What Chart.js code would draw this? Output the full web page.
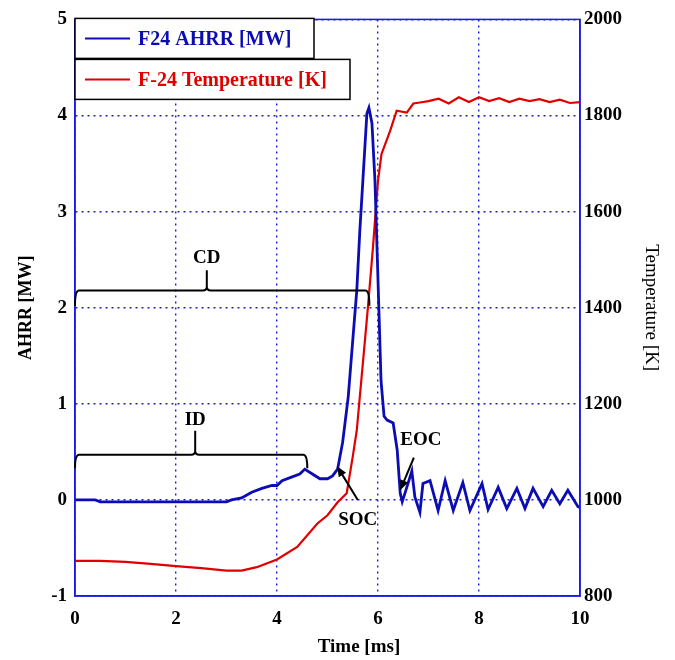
<!DOCTYPE html>
<html>
<head>
<meta charset="utf-8">
<script src="https://cdn.jsdelivr.net/npm/chart.js@4.4.0/dist/chart.umd.min.js"></script>
<style>
  html, body { margin: 0; padding: 0; background: #fff; }
</style>
</head>
<body>
<canvas id="chart" width="675" height="660"></canvas>
<script>
// Values
const ahrrTime = [0, 0.4, 0.5, 1.0, 1.5, 2.0, 2.5, 3.0, 3.1, 3.3, 3.5, 3.7, 3.9, 4.0, 4.1, 4.3, 4.45, 4.55, 4.7, 4.85, 5.0, 5.1, 5.2, 5.3, 5.41, 5.5, 5.58,
  5.64, 5.7, 5.78, 5.82, 5.88, 5.94, 5.98, 6.02, 6.06, 6.12, 6.18, 6.3, 6.38, 6.44, 6.48, 6.57, 6.67, 6.73, 6.83, 6.89, 7.03,
  7.19, 7.33, 7.49, 7.68, 7.82, 8.06, 8.18, 8.38, 8.55, 8.75, 8.91, 9.07, 9.27, 9.44, 9.6, 9.76, 9.96, 10];
const ahrrMW = [0, 0, -0.02, -0.02, -0.02, -0.02, -0.02, -0.02, 0, 0.02, 0.08, 0.12, 0.15, 0.15, 0.2, 0.24, 0.27, 0.32, 0.27, 0.22, 0.22, 0.25, 0.32, 0.6, 1.07, 1.66, 2.18,
  2.8, 3.32, 4.02, 4.08, 3.92, 3.32, 2.63, 1.94, 1.24, 0.87, 0.83, 0.8, 0.52, 0.07, -0.02, 0.13, 0.3, 0.03, -0.13, 0.17, 0.2,
  -0.11, 0.2, -0.11, 0.18, -0.11, 0.17, -0.1, 0.13, -0.09, 0.12, -0.09, 0.12, -0.07, 0.1, -0.04, 0.1, -0.07, -0.08];

const tempTime = [0, 0.5, 1.0, 1.5, 2.0, 2.5, 3.0, 3.3, 3.6, 4.0, 4.4, 4.8, 5.0, 5.2, 5.38, 5.5, 5.58, 5.7, 5.8, 5.9, 6.0, 6.07,
  6.24, 6.37, 6.57, 6.7, 6.83, 7.0, 7.2, 7.4, 7.6, 7.8, 8.0, 8.2, 8.4, 8.6, 8.8, 9.0, 9.2, 9.4, 9.6, 9.8, 10];
const tempK = [873, 873, 871, 867, 862, 858, 853, 853, 860, 876, 902, 951, 968, 995, 1014, 1090, 1145, 1284, 1400, 1525, 1664, 1720,
  1768, 1810, 1806, 1825, 1827, 1830, 1835, 1825, 1838, 1828, 1838, 1830, 1836, 1828, 1835, 1830, 1834, 1828, 1833, 1826, 1828];

const seriesLabels = ['F24 AHRR [MW]', 'F-24 Temperature [K]'];
const seriesColors = ['#0c0cb4', '#e00000'];

// annotations, in data units (time [ms], AHRR [MW])
const braces = [
  { label: 'CD', from: 0, to: 5.83, mid: 2.61, level: 2.18, foot: 2.02, tip: 2.39, text: 2.52 },
  { label: 'ID', from: 0, to: 4.6, mid: 2.38, level: 0.47, foot: 0.33, tip: 0.72, text: 0.83 },
];
const arrows = [
  { label: 'SOC', tx: 5.6, ty: -0.21, x0: 5.6, y0: 0.0, x1: 5.19, y1: 0.35 },
  { label: 'EOC', tx: 6.85, ty: 0.62, x0: 6.71, y0: 0.44, x1: 6.44, y1: 0.1 },
];

const SERIF = "'Liberation Serif', 'Times New Roman', serif";
const AXIS_BLUE = '#1a1ae6';

const extras = {
  id: 'extras',
  afterDraw(chart) {
    const { ctx, chartArea: a, scales } = chart;
    const X = v => scales.x.getPixelForValue(v);
    const Y = v => scales.y.getPixelForValue(v);
    ctx.save();

    // frame
    ctx.strokeStyle = AXIS_BLUE;
    ctx.lineWidth = 1.5;
    ctx.strokeRect(a.left, a.top, a.right - a.left, a.bottom - a.top);

    // braces
    ctx.strokeStyle = '#000';
    ctx.lineWidth = 2;
    ctx.fillStyle = '#000';
    ctx.font = 'bold 19px ' + SERIF;
    ctx.textAlign = 'center';
    ctx.textBaseline = 'middle';
    braces.forEach(b => {
      const x0 = X(b.from), x1 = X(b.to), xm = X(b.mid);
      const yl = Y(b.level), yf = Y(b.foot), yt = Y(b.tip);
      const r = 4;
      ctx.beginPath();
      ctx.moveTo(x0, yf);
      ctx.quadraticCurveTo(x0, yl, x0 + r, yl);
      ctx.lineTo(xm - r, yl);
      ctx.quadraticCurveTo(xm, yl, xm, yl - r);
      ctx.lineTo(xm, yt);
      ctx.moveTo(xm, yl - r);
      ctx.quadraticCurveTo(xm, yl, xm + r, yl);
      ctx.lineTo(x1 - r, yl);
      ctx.quadraticCurveTo(x1, yl, x1, yf);
      ctx.stroke();
      ctx.fillText(b.label, xm, Y(b.text));
    });

    // arrows
    arrows.forEach(p => {
      const xa = X(p.x0), ya = Y(p.y0), xb = X(p.x1), yb = Y(p.y1);
      const ang = Math.atan2(yb - ya, xb - xa);
      const h = 11;
      ctx.beginPath();
      ctx.moveTo(xa, ya);
      ctx.lineTo(xb - Math.cos(ang) * h * 0.6, yb - Math.sin(ang) * h * 0.6);
      ctx.stroke();
      ctx.beginPath();
      ctx.moveTo(xb, yb);
      ctx.lineTo(xb - h * Math.cos(ang - 0.4), yb - h * Math.sin(ang - 0.4));
      ctx.lineTo(xb - h * Math.cos(ang + 0.4), yb - h * Math.sin(ang + 0.4));
      ctx.closePath();
      ctx.fill();
      ctx.fillText(p.label, X(p.tx), Y(p.ty));
    });

    // legend boxes
    const boxW = [239, 275];
    ctx.font = 'bold 20px ' + SERIF;
    ctx.textAlign = 'left';
    seriesLabels.forEach((lab, i) => {
      const top = a.top - 1 + i * 41;
      ctx.fillStyle = '#fff';
      ctx.fillRect(a.left, top, boxW[i], 40);
      ctx.strokeStyle = '#000';
      ctx.lineWidth = 1.5;
      ctx.strokeRect(a.left, top, boxW[i], 40);
      ctx.strokeStyle = seriesColors[i];
      ctx.lineWidth = 2;
      ctx.beginPath();
      ctx.moveTo(a.left + 10, top + 20);
      ctx.lineTo(a.left + 55, top + 20);
      ctx.stroke();
      ctx.fillStyle = seriesColors[i];
      ctx.fillText(lab, a.left + 63, top + 21);
    });

    // x axis title
    ctx.fillStyle = '#000';
    ctx.font = 'bold 19px ' + SERIF;
    ctx.textAlign = 'center';
    ctx.fillText('Time [ms]', 359, 647);
    ctx.restore();
  }
};

const tickFont = { family: SERIF, size: 19, weight: 'bold' };

new Chart(document.getElementById('chart'), {
  type: 'line',
  data: {
    datasets: [
      {
        label: seriesLabels[0],
        data: ahrrTime.map((t, i) => ({ x: t, y: ahrrMW[i] })),
        yAxisID: 'y',
        borderColor: seriesColors[0],
        borderWidth: 2.8,
        pointRadius: 0,
        tension: 0,
      },
      {
        label: seriesLabels[1],
        data: tempTime.map((t, i) => ({ x: t, y: tempK[i] })),
        yAxisID: 'y2',
        borderColor: seriesColors[1],
        borderWidth: 2.2,
        pointRadius: 0,
        tension: 0,
      },
    ],
  },
  options: {
    responsive: false,
    devicePixelRatio: 1,
    animation: false,
    layout: { padding: { top: 19 } },
    plugins: { legend: { display: false }, tooltip: { enabled: false } },
    scales: {
      x: {
        type: 'linear',
        min: 0,
        max: 10,
        ticks: { stepSize: 2, font: tickFont, color: '#000', padding: 12 },
        grid: { color: AXIS_BLUE, lineWidth: 1.4, drawTicks: false },
        border: { color: AXIS_BLUE, width: 1.5, dash: [2, 4] },
        afterFit: s => { s.height = 64; },
      },
      y: {
        position: 'left',
        min: -1,
        max: 5,
        ticks: { stepSize: 1, font: tickFont, color: '#000', padding: 8 },
        grid: { color: AXIS_BLUE, lineWidth: 1.4, drawTicks: false },
        border: { color: AXIS_BLUE, width: 1.5, dash: [2, 4] },
        title: { display: true, text: 'AHRR [MW]', color: '#000', font: { family: SERIF, size: 18, weight: 'bold' }, padding: { top: 16 } },
        afterFit: s => { s.width = 75; },
      },
      y2: {
        position: 'right',
        min: 800,
        max: 2000,
        ticks: { stepSize: 200, font: tickFont, color: '#000', padding: 4, callback: v => String(v) },
        grid: { drawOnChartArea: false, drawTicks: false },
        border: { color: AXIS_BLUE, width: 1.5 },
        title: { display: true, text: 'Temperature [K]', color: '#000', font: { family: SERIF, size: 19 }, padding: { top: 13 } },
        afterFit: s => { s.width = 95; },
      },
    },
  },
  plugins: [extras],
});
</script>
</body>
</html>
